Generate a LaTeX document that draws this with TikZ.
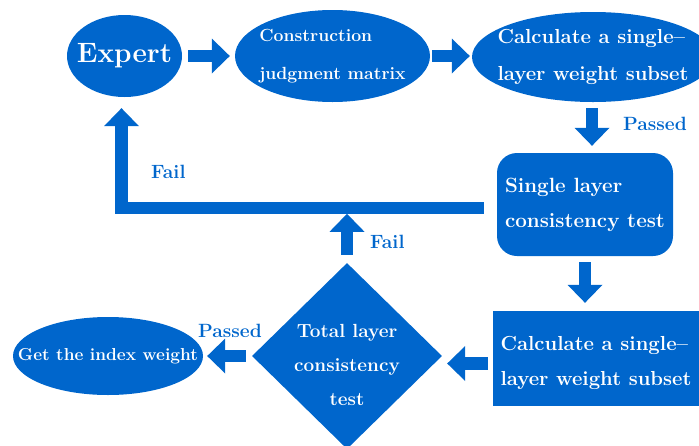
\documentclass[tikz,border=0pt]{standalone}
\usepackage{tikz}
\usetikzlibrary{shapes.geometric, arrows.meta, calc}

\definecolor{flowblue}{RGB}{0,102,204}
\newcommand{\flowfont}[2]{\fontsize{#1}{#2}\selectfont\bfseries}

\tikzset{
	box/.style = {fill = flowblue, text = white, align = left, inner sep = 0pt},
	oval/.style = {box, ellipse, inner xsep = -60pt, inner ysep = -30pt},
	blk/.style = {draw = flowblue, line width = 12.5pt, -{Triangle[length = 18pt, width = 35pt, line width = 0pt]}},
	lbl/.style = {text = flowblue, font = \flowfont{19.2}{23}, inner sep = 0pt, anchor = base west}
}

\begin{document}
\begin{tikzpicture}[x = 1pt, y = -1pt]
		\clip (0,0) rectangle (699,445);
		
		\node [oval, minimum width = 115pt, minimum height = 82pt, font = \flowfont{28}{34}] (expert) at (124.5,56) {Expert};
		
		\node [oval, minimum width = 195pt, minimum height = 92pt, font = \flowfont{17.6}{38}] (construct) at (332.5,56) {Construction\\judgment matrix};
		
		\node [oval, minimum width = 242pt, minimum height = 90pt, font = \flowfont{20.3}{37}] (calcA) at (593,57) {Calculate a single--\\layer weight subset};
		
		\node [box, rounded corners = 20pt, minimum width = 176pt, minimum height = 103pt, font = \flowfont{20.6}{35}] (single) at (585,204.5) {Single layer\\consistency test};
		
		\node [box, text height = 59pt, minimum width = 206pt, minimum height = 95pt, font = \flowfont{20.3}{35}] (calcB) at (596,358.5) {Calculate a single--\\layer weight subset};
		
		\node [box, diamond, align = center, inner sep = -30pt, text height = 99pt, minimum width = 190pt, minimum height = 186pt, font = \flowfont{19}{34}] (total) at (347,356) {Total layer\\consistency\\test};
		
		\node [oval, minimum width = 190pt, minimum height = 78pt, font = \flowfont{17.3}{21}] (get) at (108,356) {Get the index weight};
		
		\draw [blk, shorten <= 6pt, shorten >= 5pt] (expert.east) -- (construct.west);
		\draw [blk, shorten <= 2pt, shorten >= 2pt] (construct.east) -- (construct.east -| calcA.west);
		\draw [blk, shorten <= 6pt, shorten >= 7pt] ([xshift = 7pt]single.north |- calcA.south) -- ([xshift = 7pt]single.north);
		\draw [blk, shorten <= 6pt, shorten >= 8pt] (single.south) -- (single.south |- calcB.north);
		\draw [blk, shorten <= 5pt, shorten >= 5pt] ([yshift = -5pt]calcB.west) -- ([yshift = -5pt]calcB.west -| total.east);
		\draw [blk, shorten <= 6pt, shorten >= 4pt] (total.west) -- (get.east);
		
		\draw [blk, shorten <= 8pt] (total.north) -- ++(0,-49);
		\draw [blk, shorten <= 13pt, shorten >= 11pt] ([yshift = -3.5pt]single.west) -| ([xshift = -3pt]expert.south);
		
		\node [lbl] (passA) at (623,130) {Passed};
		\node [lbl] (failA) at (151,178) {Fail};
		\node [lbl] (failB) at (370,248) {Fail};
		\node [lbl] (passB) at (198,337) {Passed};
	\end{tikzpicture}
\end{document}
